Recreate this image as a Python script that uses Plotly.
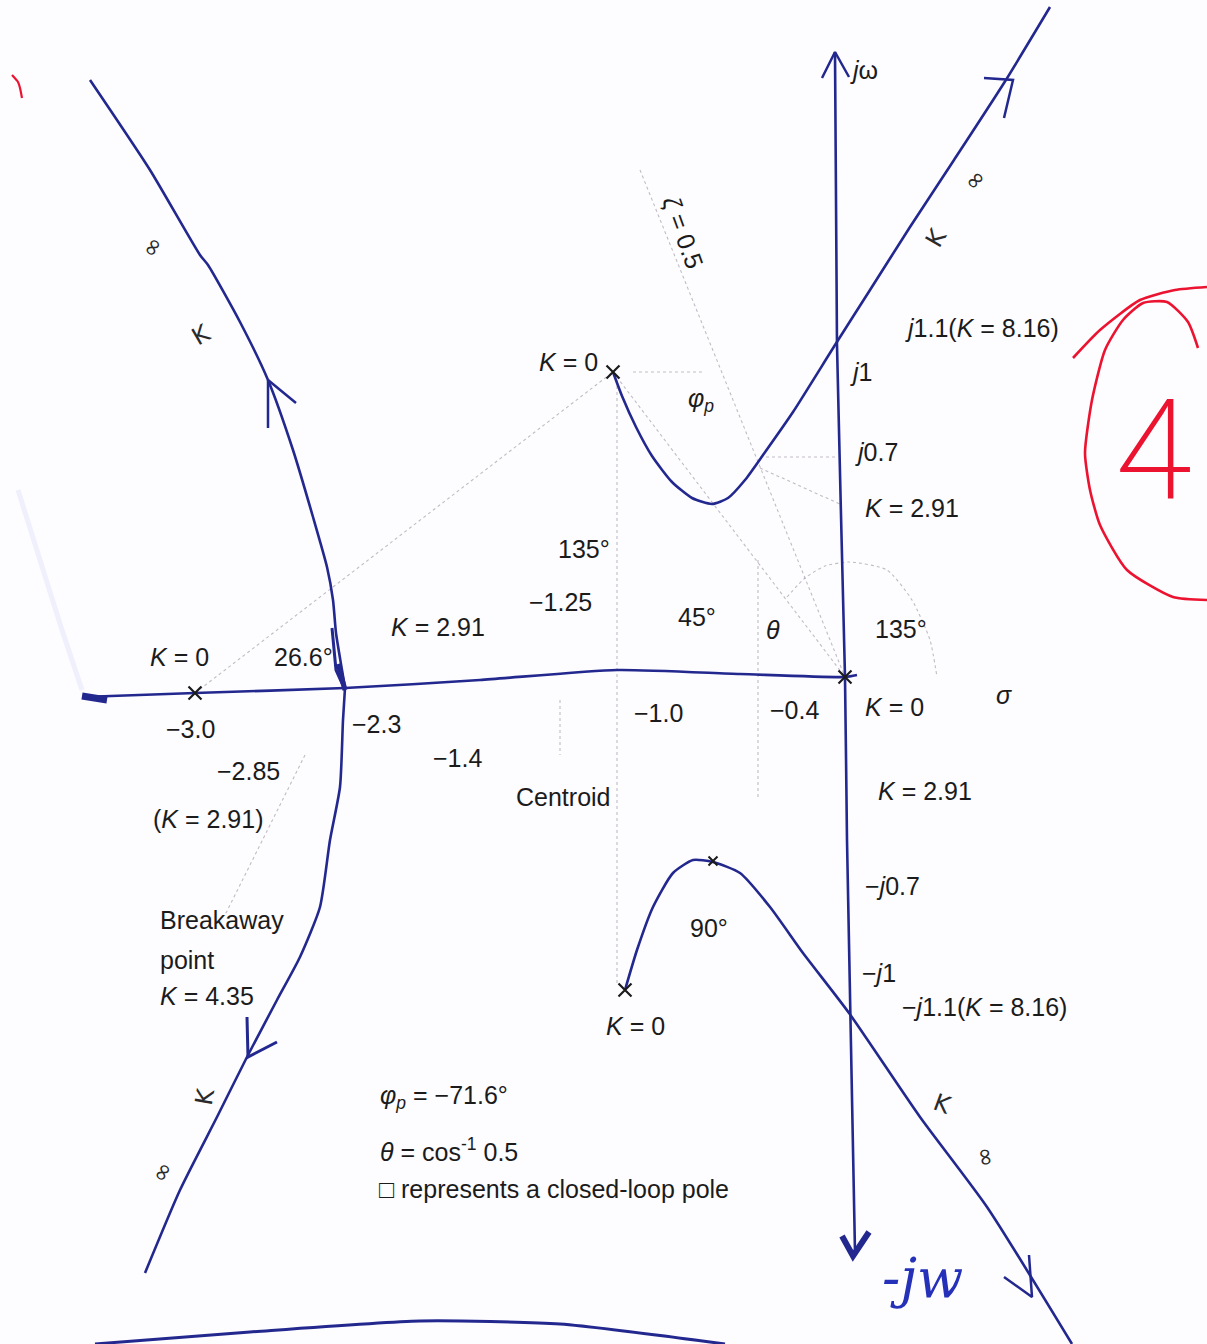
import plotly.graph_objects as go

W, H = 1207, 1344

# ---- root-locus branches (sketch units: x to the right, y downward) ----
upper_left_x = [90, 150, 200, 208, 240, 268, 293, 313, 327, 333, 336, 342, 345]
upper_left_y = [80, 170, 255, 265, 322, 380, 450, 517, 567, 600, 633, 670, 688]

lower_left_x = [345, 343, 340, 330, 320, 300, 277, 247, 217, 180, 145]
lower_left_y = [688, 720, 787, 840, 907, 957, 1000, 1057, 1117, 1190, 1273]

real_axis_x = [83, 195, 345, 480, 617, 740, 845, 857]
real_axis_y = [697, 693, 688, 680, 670, 674, 677, 675]

jw_axis_x = [835, 837, 845, 847, 855]
jw_axis_y = [52, 345, 677, 840, 1252]

upper_right_x = [613, 622, 636, 652, 672, 692, 712, 728, 745, 763, 793, 835, 870, 910, 954, 1004, 1050]
upper_right_y = [372, 396, 427, 456, 482, 498, 504, 498, 480, 455, 412, 345, 290, 227, 160, 83, 7]

lower_right_x = [625, 637, 653, 673, 693, 713, 740, 770, 803, 849, 920, 987, 1072]
lower_right_y = [990, 950, 907, 873, 860, 862, 873, 907, 953, 1013, 1117, 1207, 1344]

bottom_rule_x = [95, 250, 420, 560, 725]
bottom_rule_y = [1344, 1332, 1321, 1324, 1344]

# open-loop poles
pole_x = [195, 613, 625, 845]
pole_y = [693, 372, 990, 677]

# arrowheads drawn along the branches
arrow_paths = [
    ([268, 268, 296], [428, 380, 403], 2.5),      # upper-left branch, upward
    ([332, 336, 345], [628, 670, 690], 3.0),      # into the breakaway point
    ([338, 345], [664, 690], 5.0),
    ([822, 835, 849], [78, 52, 77], 2.5),         # jω axis tip
    ([842, 853, 869], [1236, 1256, 1232], 6.0),   # −jω axis tip
    ([984, 1013, 1004], [78, 80, 118], 2.5),      # upper-right asymptote
    ([247, 248, 277], [1017, 1057, 1042], 3.0),   # lower-left branch
    ([1004, 1032, 1029], [1277, 1297, 1255], 2.5),  # lower-right asymptote
    ([82, 107], [696, 700], 7.0),                 # left end of the real-axis segment
]

# construction lines (dotted)
guide_paths = [
    ([640, 845], [170, 677]),        # ζ = 0.5 radial line
    ([195, 613], [693, 372]),        # pole at −3 to complex pole
    ([617, 617], [380, 985]),        # complex-pole pair
    ([633, 705], [372, 372]),        # departure reference
    ([760, 835], [457, 457]),        # j0.7 level
    ([760, 842], [468, 505]),        # K = 2.91 point
    ([613, 845], [372, 677]),        # complex pole to origin
    ([305, 225], [755, 915]),        # lower-left asymptote
    ([560, 560], [700, 755]),        # centroid tick
    ([758, 758], [560, 800]),        # −0.4 tick
]
arc_x = [787, 805, 825, 850, 887, 912, 930, 937]
arc_y = [597, 578, 566, 562, 570, 600, 640, 677]

# red marking
red_loop_x = [1073, 1100, 1140, 1175, 1207]
red_loop_y = [358, 330, 300, 290, 287]
red_inner_x = [1198, 1188, 1167, 1143, 1123, 1105, 1092, 1085, 1090, 1100, 1127, 1173, 1207]
red_inner_y = [348, 322, 302, 303, 320, 350, 400, 453, 490, 525, 570, 597, 600]
red_tick_x = [12, 18, 20, 22]
red_tick_y = [75, 82, 88, 98]

# ---- text ----
label_text = [
    "<i>j</i>ω",
    "<i>K</i> = 0", "<i>φ<sub>p</sub></i>", "<i>j</i>1.1(<i>K</i> = 8.16)", "<i>j</i>1", "<i>j</i>0.7",
    "<i>K</i> = 2.91", "135°", "−1.25", "45°", "<i>θ</i>", "135°", "<i>K</i> = 2.91",
    "<i>K</i> = 0", "26.6°", "−3.0", "−2.3", "−1.0", "−0.4", "<i>K</i> = 0", "<i>σ</i>",
    "−2.85", "−1.4", "Centroid", "(<i>K</i> = 2.91)", "<i>K</i> = 2.91", "−<i>j</i>0.7", "90°",
    "Breakaway", "point", "<i>K</i> = 4.35", "−<i>j</i>1", "−<i>j</i>1.1(<i>K</i> = 8.16)", "<i>K</i> = 0",
    "<i>φ<sub>p</sub></i> = −71.6°", "<i>θ</i> = cos<sup>-1</sup> 0.5", "□ represents a closed-loop pole",
]
label_x = [
    848,
    537, 686, 903, 848, 853,
    863, 556, 527, 676, 764, 873, 389,
    148, 272, 164, 350, 632, 768, 863, 994,
    215, 431, 514, 151, 876, 863, 688,
    158, 158, 158, 860, 900, 604,
    378, 378, 377,
]
label_y = [
    70,
    362, 400, 328, 372, 452,
    508, 549, 602, 617, 630, 629, 627,
    657, 657, 729, 724, 713, 710, 707, 695,
    771, 758, 797, 819, 791, 886, 928,
    920, 960, 996, 973, 1007, 1026,
    1097, 1150, 1189,
]

# pen annotations along the branches
pen_text = ["∞", "K", "∞", "K", "K", "∞", "K", "∞"]
pen_x = [152, 201, 975, 936, 205, 162, 942, 986]
pen_y = [247, 335, 180, 238, 1097, 1172, 1104, 1157]
pen_angle = [-60, -30, -45, -60, -80, -60, 20, 80]

LOCUS = "#23288f"
INK = "#1b1b1b"
GUIDE = "rgba(120,110,125,0.45)"
RED = "#ec1330"
FONT = "Liberation Sans, Arial, sans-serif"

fig = go.Figure()


def stroke(xs, ys, color, width, dash="solid"):
    fig.add_trace(go.Scatter(
        x=xs, y=ys, mode="lines", hoverinfo="skip", showlegend=False,
        line=dict(color=color, width=width, dash=dash, shape="spline", smoothing=0.6),
    ))


# faint smear on the left margin
stroke([18, 40, 62, 82], [490, 560, 630, 690], "rgba(130,140,225,0.10)", 5)

for gx, gy in guide_paths:
    stroke(gx, gy, GUIDE, 1.1, "dot")
stroke(arc_x, arc_y, GUIDE, 1.1, "dot")

for bx, by in [(upper_left_x, upper_left_y), (lower_left_x, lower_left_y),
               (real_axis_x, real_axis_y), (jw_axis_x, jw_axis_y),
               (upper_right_x, upper_right_y), (lower_right_x, lower_right_y)]:
    stroke(bx, by, LOCUS, 2.6)
stroke(bottom_rule_x, bottom_rule_y, LOCUS, 3)

for ax_, ay_, w in arrow_paths:
    fig.add_trace(go.Scatter(x=ax_, y=ay_, mode="lines", hoverinfo="skip", showlegend=False,
                             line=dict(color=LOCUS, width=w)))

fig.add_trace(go.Scatter(
    x=pole_x, y=pole_y, mode="markers", hoverinfo="skip", showlegend=False,
    marker=dict(symbol="x-thin", size=13, line=dict(color=INK, width=2.2)),
))
fig.add_trace(go.Scatter(
    x=[713], y=[861], mode="markers", hoverinfo="skip", showlegend=False,
    marker=dict(symbol="x-thin", size=9, line=dict(color=INK, width=2)),
))

stroke(red_loop_x, red_loop_y, RED, 2.6)
stroke(red_inner_x, red_inner_y, RED, 2.6)
stroke(red_tick_x, red_tick_y, RED, 2.2)

annotations = []
for t, x, y in zip(label_text, label_x, label_y):
    annotations.append(dict(
        x=x, y=y, xref="x", yref="y", text=t, showarrow=False,
        xanchor="left", yanchor="middle",
        font=dict(family=FONT, size=25, color=INK),
    ))

annotations.append(dict(
    x=683, y=232, xref="x", yref="y", text="<i>ζ</i> = 0.5", showarrow=False,
    textangle=70, font=dict(family=FONT, size=25, color=INK),
))

for t, x, y, a in zip(pen_text, pen_x, pen_y, pen_angle):
    annotations.append(dict(
        x=x, y=y, xref="x", yref="y", text=t, showarrow=False, textangle=a,
        font=dict(family="DejaVu Sans", size=24, color="#2a2a2a"),
    ))

# hand-written page number, thin pen stroke
annotations.append(dict(
    x=1153, y=450, xref="x", yref="y", text="4", showarrow=False,
    font=dict(family="Roboto, DejaVu Sans, sans-serif", size=140, color=RED, weight=200),
))
annotations.append(dict(
    x=922, y=1278, xref="x", yref="y", text="<i>-jw</i>", showarrow=False,
    font=dict(family="DejaVu Serif", size=54, color="#2431b8"),
))

fig.update_layout(
    width=W, height=H, autosize=False,
    margin=dict(l=0, r=0, t=0, b=0),
    paper_bgcolor="#fdfcff", plot_bgcolor="#fdfcff",
    xaxis=dict(range=[0, W], visible=False, fixedrange=True),
    yaxis=dict(range=[H, 0], visible=False, fixedrange=True),
    annotations=annotations,
)

fig.write_html("out.html")
